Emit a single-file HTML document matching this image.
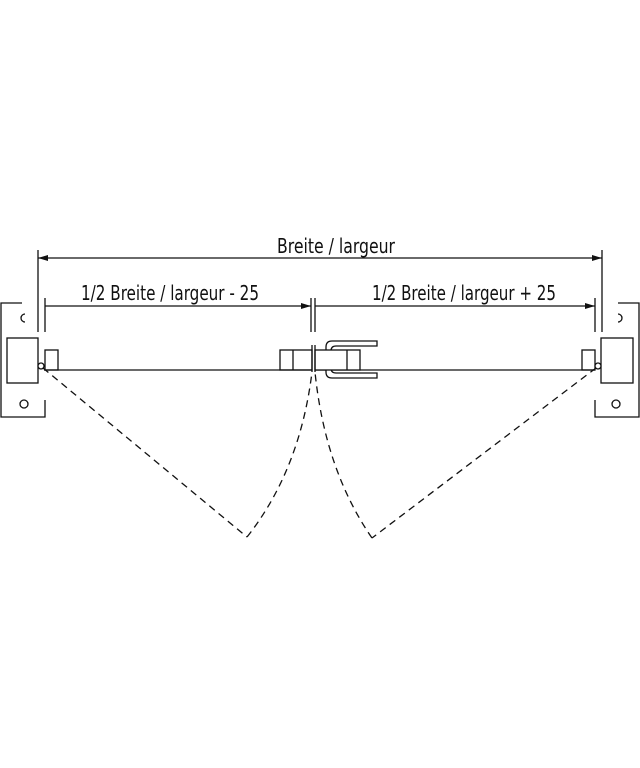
<!DOCTYPE html>
<html><head><meta charset="utf-8"><style>
html,body{margin:0;padding:0;background:#fff;}
svg{display:block;}
text{font-family:"DejaVu Sans Condensed","Liberation Sans",sans-serif;fill:#111;}
</style></head><body>
<svg width="640" height="768" viewBox="0 0 640 768" xmlns="http://www.w3.org/2000/svg">
<defs>
<marker id="a" markerWidth="10" markerHeight="6" refX="10" refY="3" orient="auto" markerUnits="userSpaceOnUse"><path d="M0,0 L10,3 L0,6 z" fill="#111"/></marker>
<marker id="b" markerWidth="10" markerHeight="6" refX="0" refY="3" orient="auto" markerUnits="userSpaceOnUse"><path d="M10,0 L0,3 L10,6 z" fill="#111"/></marker>
</defs>
<g stroke="#111" stroke-width="1.3" fill="none">
<line x1="38" y1="250" x2="38" y2="332"/>
<line x1="45" y1="298" x2="45" y2="332"/>
<line x1="602" y1="250" x2="602" y2="332"/>
<line x1="595" y1="298" x2="595" y2="332"/>
<line x1="311" y1="298" x2="311" y2="332"/>
<line x1="315" y1="298" x2="315" y2="332"/>
<line x1="38" y1="258" x2="602" y2="258" marker-end="url(#a)" marker-start="url(#b)"/>
<line x1="45" y1="306" x2="311" y2="306" marker-end="url(#a)"/>
<line x1="315" y1="306" x2="595" y2="306" marker-end="url(#a)"/>
<polyline points="22,303 1,303 1,417 45,417 45,400"/>
<rect x="7" y="338" width="31" height="45"/>
<path d="M25,314 A4,4 0 1 0 25,322"/>
<circle cx="24" cy="404" r="4"/>
<rect x="45" y="350" width="13" height="20"/>
<circle cx="41" cy="366" r="3" fill="#fff"/>
<polyline points="618,303 639,303 639,417 595,417 595,400"/>
<rect x="601" y="338" width="32" height="45"/>
<path d="M618,314 A4,4 0 1 1 618,322"/>
<circle cx="616" cy="404" r="4"/>
<rect x="582" y="350" width="13" height="20"/>
<circle cx="598" cy="366" r="3" fill="#fff"/>
<line x1="44" y1="370" x2="312" y2="370"/>
<line x1="315" y1="370" x2="595" y2="370"/>
<rect x="280" y="350" width="32" height="20"/>
<line x1="293" y1="350" x2="293" y2="370"/>
<path d="M377,341 L332,341 Q326,341 326,347 L326,372 Q326,378 332,378 L377,378 L377,373 L336,373 Q331,373 331,368 L331,351 Q331,346 336,346 L377,346 Z" fill="#fff"/>
<rect x="315" y="350" width="45" height="20" fill="#fff"/>
<line x1="347" y1="350" x2="347" y2="370"/>
<line x1="312" y1="345" x2="312" y2="372"/>
<line x1="315" y1="345" x2="315" y2="372"/>
<g stroke-dasharray="7,5">
<line x1="43" y1="368" x2="247" y2="537"/>
<path d="M247,537 Q300,470 312,372"/>
<line x1="596" y1="368" x2="372" y2="538"/>
<path d="M372,538 Q325,470 315,372"/>
</g>
</g>
<text x="277" y="253" font-size="20" textLength="118" lengthAdjust="spacingAndGlyphs">Breite / largeur</text>
<text x="81" y="300" font-size="20" textLength="178" lengthAdjust="spacingAndGlyphs">1/2 Breite / largeur - 25</text>
<text x="372" y="300" font-size="20" textLength="184" lengthAdjust="spacingAndGlyphs">1/2 Breite / largeur + 25</text>
</svg>
</body></html>
